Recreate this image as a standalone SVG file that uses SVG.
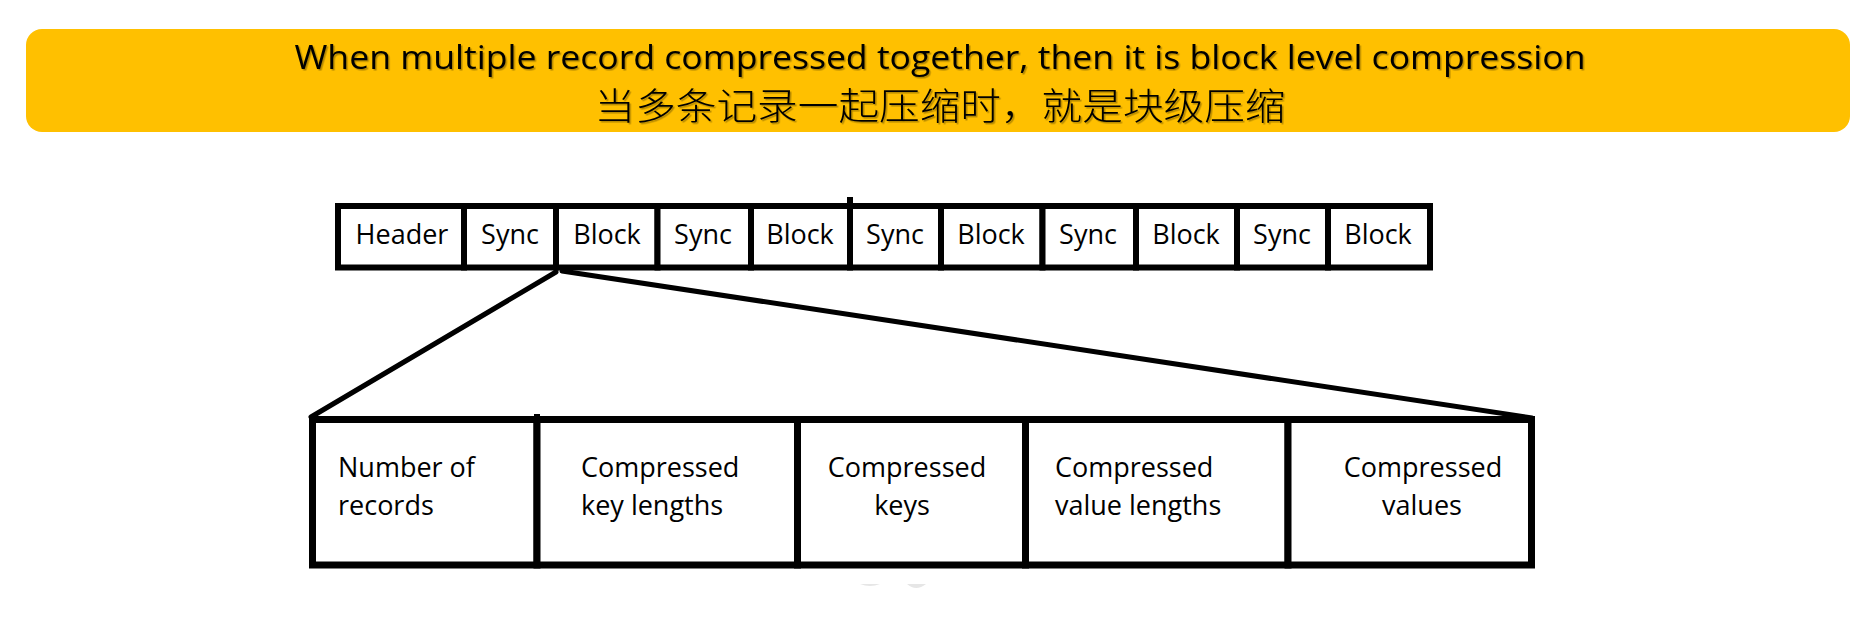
<svg xmlns="http://www.w3.org/2000/svg" width="1869" height="628" viewBox="0 0 1869 628">
<style>
.banner{fill:#FFC000}
.title{font-family:"Open Sans","Noto Sans","Noto Sans CJK SC",sans-serif;fill:#000}
.cjk{font-family:"Noto Sans CJK SC",sans-serif;fill:#000;font-weight:300}
.cell{fill:#fff;stroke:#000;stroke-width:6}
.bcell{fill:#fff;stroke:#000;stroke-width:7}
.lbl{font-family:"Open Sans","Noto Sans",sans-serif;font-size:27px;fill:#000}
.mid{text-anchor:middle}
.conn{stroke:#000;stroke-width:5;fill:none;stroke-linecap:round}
</style>
<defs>
<filter id="sh" x="-5%" y="-20%" width="110%" height="140%">
<feDropShadow dx="1.5" dy="1.5" stdDeviation="0.6" flood-color="#000" flood-opacity="0.3"/>
</filter>
</defs>
<rect width="1869" height="628" fill="#fff"/>
<g id="banner">
<rect class="banner" x="26" y="29" width="1824" height="103" rx="16"/>
<text class="title mid" x="940" y="69" font-size="33" textLength="1291" lengthAdjust="spacingAndGlyphs" filter="url(#sh)">When multiple record compressed together, then it is block level compression</text>
<text class="cjk mid" x="940" y="120" font-size="37" textLength="691" lengthAdjust="spacingAndGlyphs" filter="url(#sh)">当多条记录一起压缩时，就是块级压缩</text>
</g>
<g id="connectors">
<line class="conn" x1="556" y1="272" x2="311" y2="417"/>
<line class="conn" x1="562" y1="271" x2="1532" y2="418"/>
</g>
<g id="file-bar">
<g id="c-header"><rect class="cell" x="338" y="206" width="126" height="61.5"/><text class="lbl mid" x="402" y="244">Header</text></g>
<g id="c-sync1"><rect class="cell" x="464" y="206" width="92" height="61.5"/><text class="lbl mid" x="510" y="244">Sync</text></g>
<g id="c-block1"><rect class="cell" x="556" y="206" width="101.5" height="61.5"/><text class="lbl mid" x="607" y="244">Block</text></g>
<g id="c-sync2"><rect class="cell" x="657.5" y="206" width="93.5" height="61.5"/><text class="lbl mid" x="703" y="244">Sync</text></g>
<g id="c-block2"><rect class="cell" x="751" y="206" width="99" height="61.5"/><text class="lbl mid" x="800" y="244">Block</text></g>
<g id="c-sync3"><rect class="cell" x="850" y="206" width="91" height="61.5"/><text class="lbl mid" x="895" y="244">Sync</text></g>
<g id="c-block3"><rect class="cell" x="941" y="206" width="101.5" height="61.5"/><text class="lbl mid" x="991" y="244">Block</text></g>
<g id="c-sync4"><rect class="cell" x="1042.5" y="206" width="93.5" height="61.5"/><text class="lbl mid" x="1088" y="244">Sync</text></g>
<g id="c-block4"><rect class="cell" x="1136" y="206" width="101" height="61.5"/><text class="lbl mid" x="1186" y="244">Block</text></g>
<g id="c-sync5"><rect class="cell" x="1237" y="206" width="91" height="61.5"/><text class="lbl mid" x="1282" y="244">Sync</text></g>
<g id="c-block5"><rect class="cell" x="1328" y="206" width="102" height="61.5"/><text class="lbl mid" x="1378" y="244">Block</text></g>
<line x1="850" y1="197" x2="850" y2="206" stroke="#000" stroke-width="6"/>
</g>
<g id="block-detail">
<g id="d-num"><rect class="bcell" x="312.5" y="419.5" width="224.5" height="145.5"/><text class="lbl" x="338" y="477">Number of</text><text class="lbl" x="338" y="515">records</text></g>
<g id="d-keylen"><rect class="bcell" x="537" y="419.5" width="260.5" height="145.5"/><text class="lbl" x="581" y="477">Compressed</text><text class="lbl" x="581" y="515">key lengths</text></g>
<g id="d-keys"><rect class="bcell" x="797.5" y="419.5" width="228" height="145.5"/><text class="lbl mid" x="907" y="477">Compressed</text><text class="lbl mid" x="902" y="515">keys</text></g>
<g id="d-vallen"><rect class="bcell" x="1025.5" y="419.5" width="262.5" height="145.5"/><text class="lbl" x="1055" y="477">Compressed</text><text class="lbl" x="1055" y="515">value lengths</text></g>
<g id="d-vals"><rect class="bcell" x="1288" y="419.5" width="243.5" height="145.5"/><text class="lbl mid" x="1423" y="477">Compressed</text><text class="lbl mid" x="1422" y="515">values</text></g>
<line x1="537" y1="414" x2="537" y2="420" stroke="#000" stroke-width="6"/>
</g>
<g id="marks" fill="#e6e6e6">
<path d="M860 584 Q870 588 880 584 Z"/>
<path d="M907 584 Q916 592 926 584 Z"/>
</g>
</svg>
